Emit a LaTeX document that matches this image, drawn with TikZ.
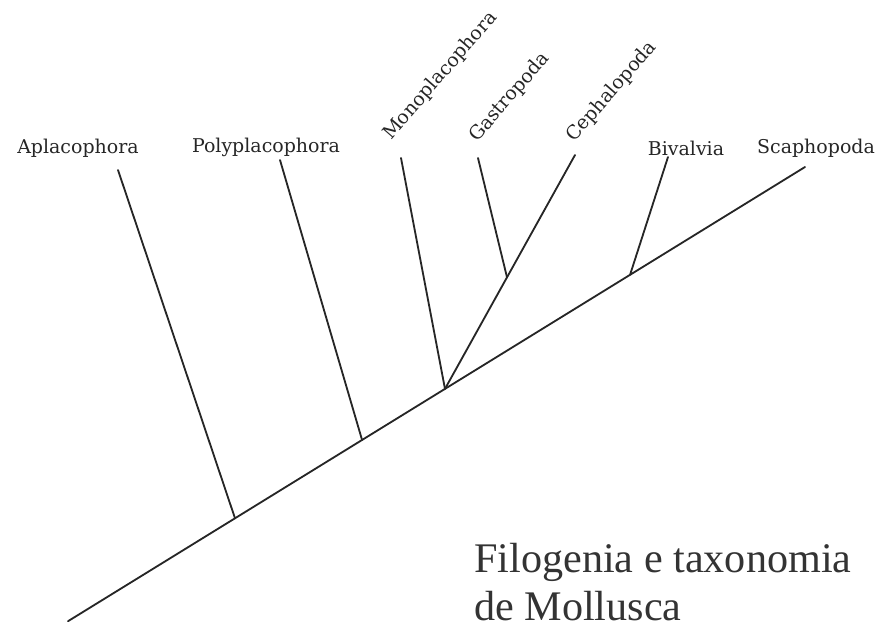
\documentclass[tikz,border=0pt]{standalone}
\usepackage{fontspec}
\setmainfont{Liberation Serif}
\newfontfamily\labelfont{DejaVu Serif}
\usetikzlibrary{calc}

\tikzset{
    branch/.style={draw=black!85, line width=1.3pt, line cap=round},
    taxon/.style={font=\labelfont\fontsize{13.5}{15}\selectfont, inner sep=1pt, text=black!85},
    tilted/.style={taxon, rotate=49, anchor=base west},
    heading/.style={font=\fontsize{30}{34}\selectfont, inner sep=0pt, anchor=base west, text=black!80}
}

\begin{document}
\begin{tikzpicture}
    %% fix the page to the size of the reference picture
    \useasboundingbox (0,0) rectangle (22.15,15.75);

    \begin{scope}
    %% the main stem, from the root up to Scaphopoda
        \coordinate (root) at (1.7,0.22);
        \coordinate (scaph) at (20.125,11.575);

    %% where the side branches leave the main stem
        \coordinate (nApla) at ($(root)!0.2266!(scaph)$);
        \coordinate (nPoly) at ($(root)!0.399!(scaph)$);
        \coordinate (nMono) at ($(root)!0.5115!(scaph)$);
        \coordinate (nBiva) at ($(root)!0.7626!(scaph)$);

    %% tips of the side branches
        \coordinate (apla) at (2.95,11.5);
        \coordinate (poly) at (7.0,11.75);
        \coordinate (mono) at (10.025,11.8);
        \coordinate (gast) at (11.95,11.8);
        \coordinate (ceph) at (14.375,11.875);
        \coordinate (biva) at (16.7,11.825);
        \coordinate (nGast) at ($(nMono)!0.477!(ceph)$);

        \draw[branch] (root) -- (scaph);
        \draw[branch] (nApla) -- (apla);
        \draw[branch] (nPoly) -- (poly);
        \draw[branch] (nMono) -- (mono);
        \draw[branch] (nMono) -- (ceph);
        \draw[branch] (nGast) -- (gast);
        \draw[branch] (nBiva) -- (biva);
    \end{scope}

    %% names of the taxa
        \node[taxon] (lApla) at (1.95,12.05) {Aplacophora};
        \node[taxon] (lPoly) at (6.65,12.075) {Polyplacophora};
        \node[tilted] (lMono) at (9.75,12.2) {Monoplacophora};
        \node[tilted] (lGast) at (11.9,12.15) {Gastropoda};
        \node[tilted] (lCeph) at (14.33,12.15) {Cephalopoda};
        \node[taxon] (lBiva) at (17.15,12.05) {Bivalvia};
        \node[taxon] (lScap) at (20.4,12.05) {Scaphopoda};

    %% title
        \node[heading] (title1) at (11.85,1.45) {Filogenia e taxonomia};
        \node[heading] (title2) at (11.85,0.25) {de Mollusca};
\end{tikzpicture}
\end{document}
